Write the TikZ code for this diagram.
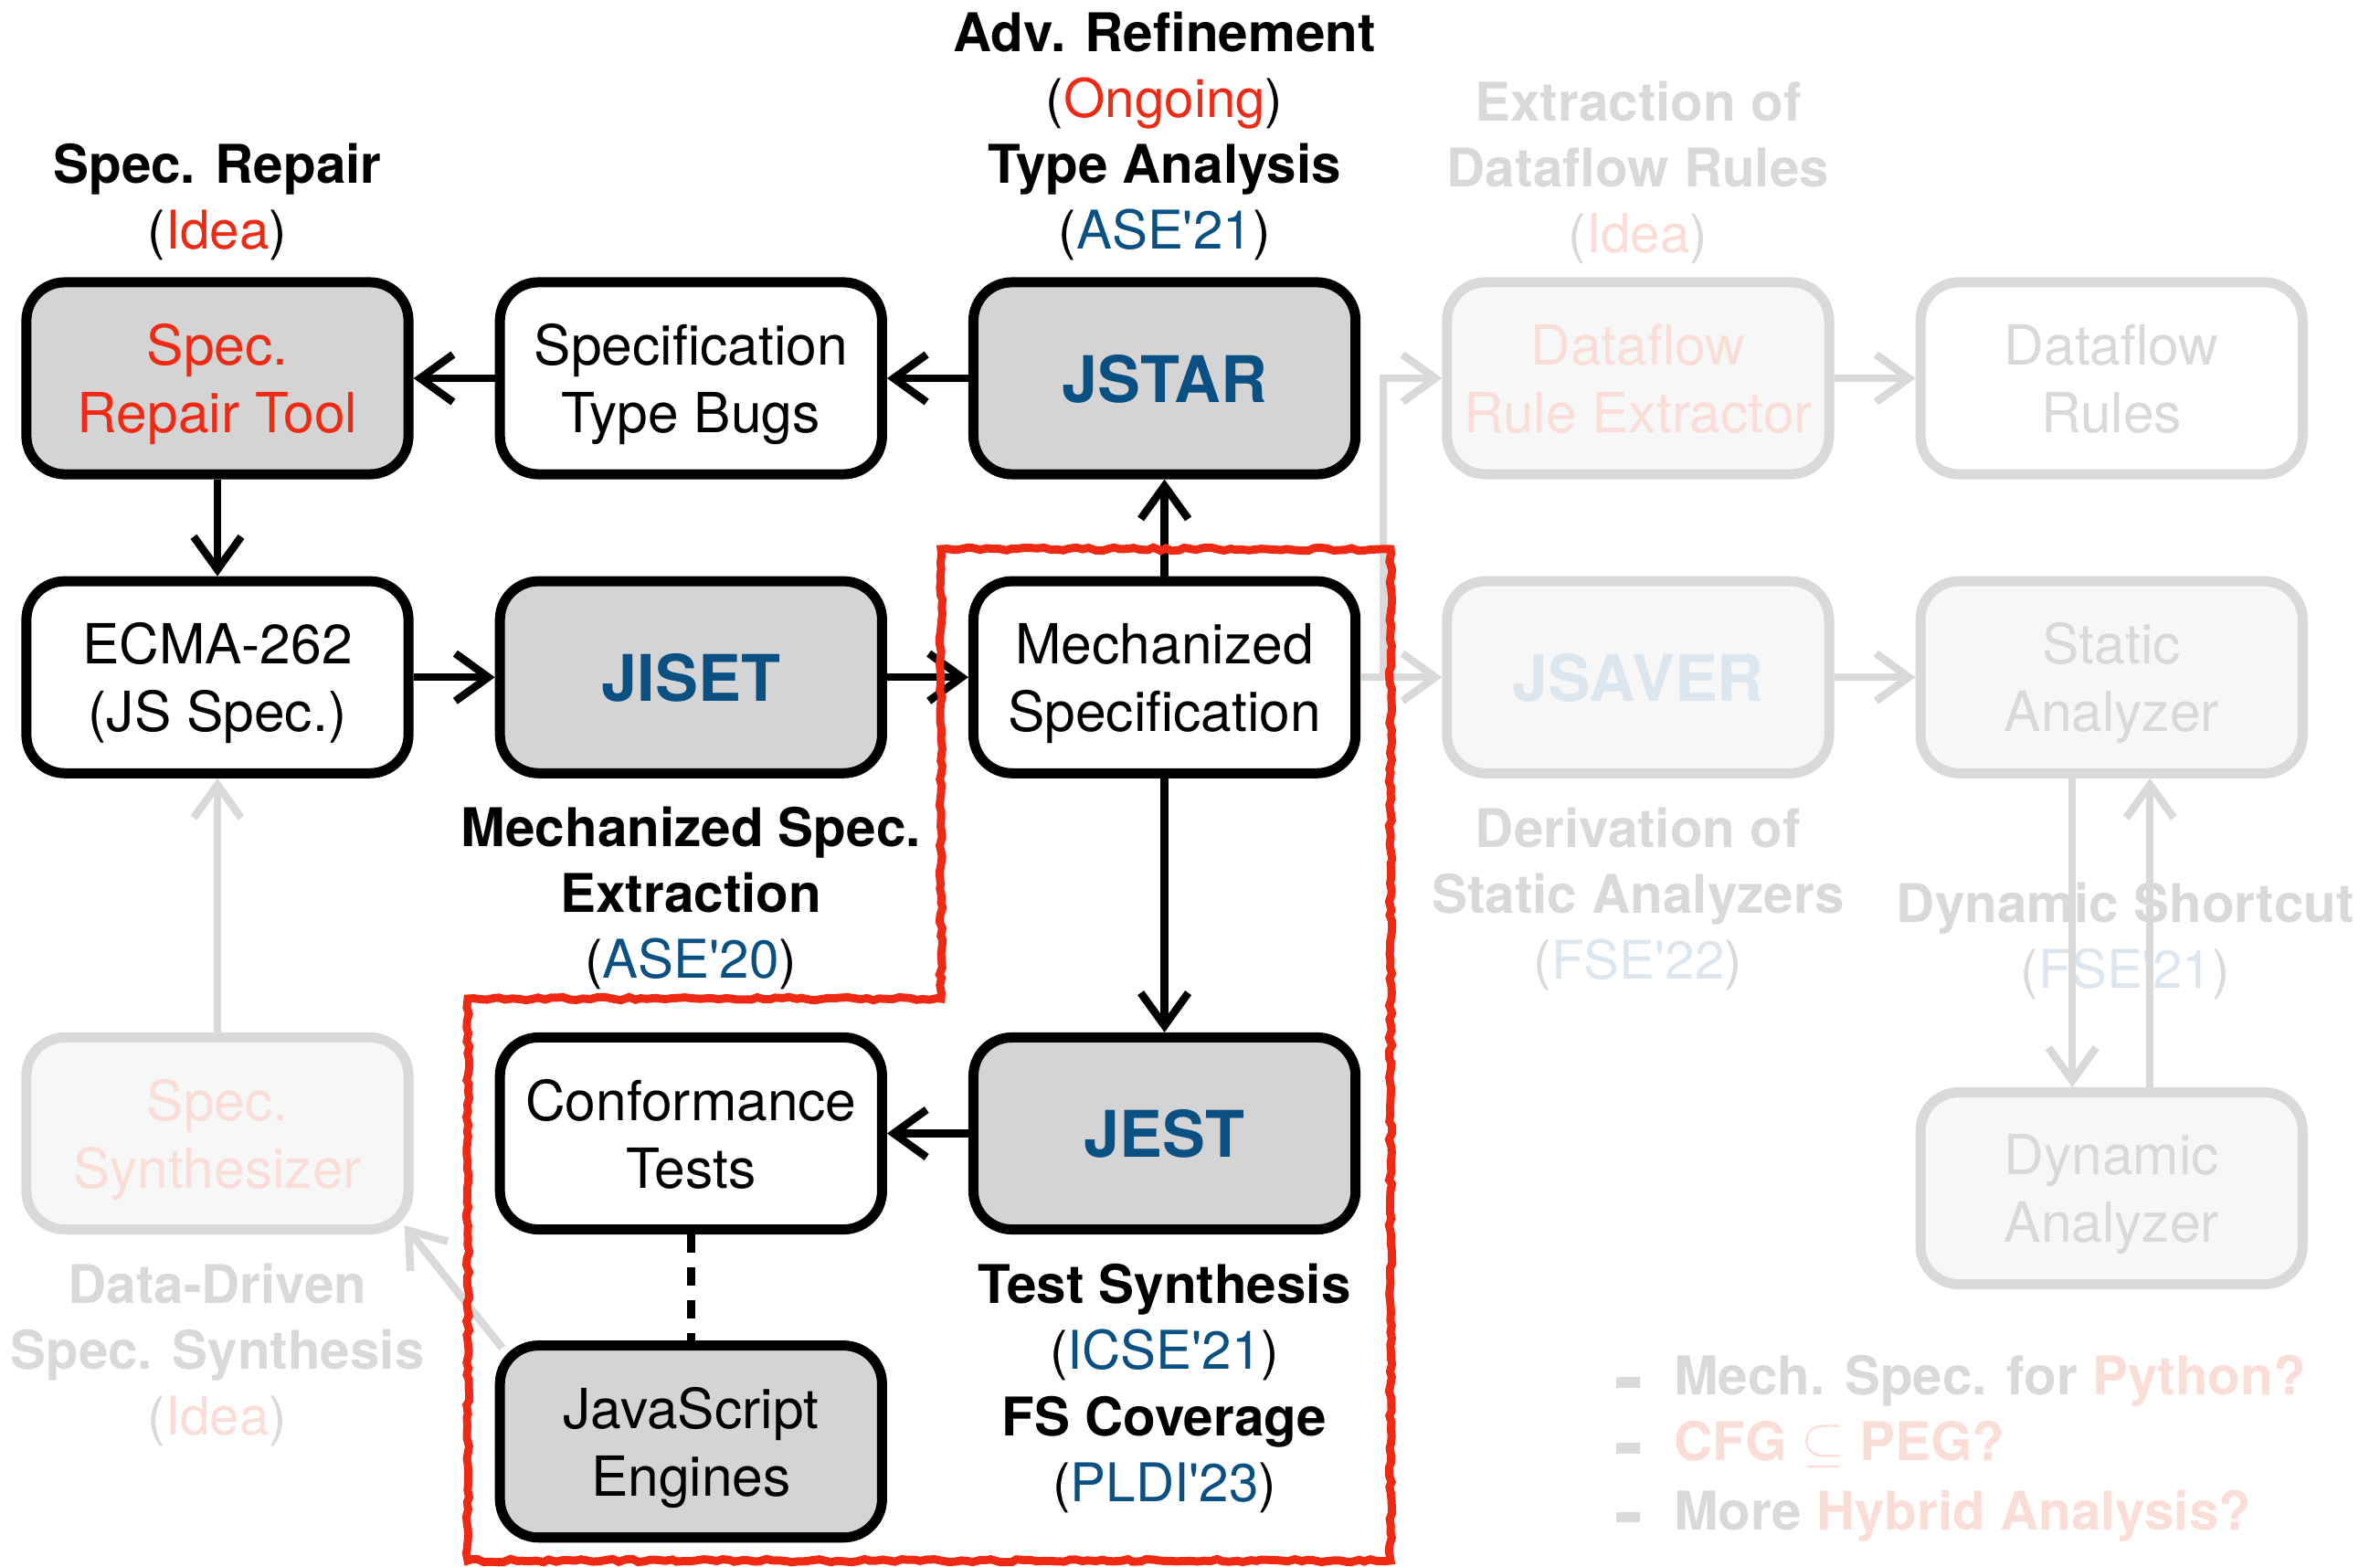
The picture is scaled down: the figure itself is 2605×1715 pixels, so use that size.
\documentclass[tikz,border=0pt]{standalone}
\usepackage{fontspec}
\setmainfont{TeX Gyre Heros}
\usepackage{tikz}
\usetikzlibrary{calc}
\usetikzlibrary{positioning}
\usetikzlibrary{arrows.meta}
\usetikzlibrary{decorations.pathmorphing}
\tikzset{every picture/.style={line width=0.085cm, >={Straight Barb[length=0.36cm,width=0.52cm]}}}
\definecolor{toolGray}{HTML}{D4D4D4}
\definecolor{paperBlue}{HTML}{0B5082}
\definecolor{ideaRed}{HTML}{EE2A15}
\definecolor{fadeGray}{HTML}{D9D9D9}
\definecolor{fadeFill}{HTML}{F7F7F7}
\definecolor{fadeRed}{HTML}{FBDDD8}
\definecolor{fadeBlue}{HTML}{DCE6EF}
\newcommand{\boxfont}{\fontsize{17.2}{21}\selectfont}
\newcommand{\namefont}{\fontsize{20}{24}\selectfont\bfseries}
\newcommand{\notefont}{\fontsize{16.6}{20.5}\selectfont}
\newcommand{\listdash}{\makebox[0.63cm][l]{\rule[2.3pt]{7.2pt}{3.2pt}}}

\begin{document}
\begin{tikzpicture}[x=0.01cm, y=-0.01cm,
        blockbox/.style={rectangle, rounded corners=0.42cm, line width=0.11cm, minimum width=4.18cm, minimum height=2.1cm, align=center, inner sep=0pt, text depth=0pt, font=\boxfont},
        toolbox/.style={blockbox, draw=black, fill=toolGray},
        docbox/.style={blockbox, draw=black, fill=white},
        fadetool/.style={blockbox, draw=fadeGray, fill=fadeFill, text=fadeGray},
        fadedoc/.style={blockbox, draw=fadeGray, fill=white, text=fadeGray},
        notetext/.style={align=center, inner sep=0pt, font=\notefont},
        fadeflow/.style={->, draw=fadeGray},
        sketch/.style={draw=ideaRed, line width=0.09cm, decorate, decoration={random steps, segment length=2pt, amplitude=0.5pt}}]
        \useasboundingbox (0,0) rectangle (2605,1715);
        \pgfmathsetseed{7}
        % top row
        \node[toolbox, text=ideaRed] (repair) at (238,414) {Spec.\\Repair Tool};
        \node[docbox, right=0.89cm of repair] (bugs) {Specification\\Type Bugs};
        \node[toolbox, font=\namefont, text=paperBlue, right=0.89cm of bugs] (jstar) {JSTAR};
        \node[fadetool, text=fadeRed, right=0.89cm of jstar] (extractor) {Dataflow\\Rule Extractor};
        \node[fadedoc, right=0.89cm of extractor] (rules) {Dataflow\\Rules};
        % middle row
        \node[docbox, below=1.06cm of repair] (ecma) {ECMA-262\\(JS Spec.)};
        \node[toolbox, font=\namefont, text=paperBlue, right=0.89cm of ecma] (jiset) {JISET};
        \node[docbox, right=0.89cm of jiset] (mech) {Mechanized\\Specification};
        \node[fadetool, font=\namefont, text=fadeBlue, right=0.89cm of mech] (jsaver) {JSAVER};
        \node[fadetool, right=0.89cm of jsaver] (static) {Static\\Analyzer};
        % bottom rows
        \node[toolbox, font=\namefont, text=paperBlue, below=2.78cm of mech] (jest) {JEST};
        \node[docbox, left=0.89cm of jest] (tests) {Conformance\\Tests};
        \node[fadetool, text=fadeRed, left=0.89cm of tests] (synth) {Spec.\\Synthesizer};
        \node[toolbox, below=1.16cm of tests] (engines) {JavaScript\\Engines};
        \node[fadetool, below=3.38cm of static] (dynamic) {Dynamic\\Analyzer};
        % labels
        \node[notetext, above=0.14cm of repair] (repairnote) {\textbf{Spec. Repair}\\(\textcolor{ideaRed}{Idea})};
        \node[notetext, above=0.14cm of jstar] (jstarnote) {\textbf{Adv. Refinement}\\(\textcolor{ideaRed}{Ongoing})\\\textbf{Type Analysis}\\(\textcolor{paperBlue}{ASE\textquotesingle21})};
        \node[notetext, text=fadeGray, above=0.1cm of extractor] (extractornote) {\textbf{Extraction of}\\\textbf{Dataflow Rules}\\(\textcolor{fadeRed}{Idea})};
        \node[notetext, below=0.27cm of jiset] (jisetnote) {\textbf{Mechanized Spec.}\\\textbf{Extraction}\\(\textcolor{paperBlue}{ASE\textquotesingle20})};
        \node[notetext, text=fadeGray, below=0.28cm of jsaver] (jsavernote) {\textbf{Derivation of}\\\textbf{Static Analyzers}\\(\textcolor{fadeBlue}{FSE\textquotesingle22})};
        \node[notetext, below=0.28cm of jest] (jestnote) {\textbf{Test Synthesis}\\(\textcolor{paperBlue}{ICSE\textquotesingle21})\\\textbf{FS Coverage}\\(\textcolor{paperBlue}{PLDI\textquotesingle23})};
        \node[notetext, text=fadeGray, below=0.28cm of synth] (synthnote) {\textbf{Data-Driven}\\\textbf{Spec. Synthesis}\\(\textcolor{fadeRed}{Idea})};
        \node[notetext, text=fadeGray, below=1.1cm of static, xshift=0.15cm] (shortcutnote) {\textbf{Dynamic Shortcut}\\(\textcolor{fadeBlue}{FSE\textquotesingle21})};
        \node[notetext, align=left, text=fadeGray, font=\notefont\bfseries, anchor=north west] (outlook) at (1765,1479)
            {\listdash Mech. Spec. for \textcolor{fadeRed}{Python?}\\
             \listdash\textcolor{fadeRed}{CFG $\subseteq$ PEG?}\\[1pt]
             \listdash More \textcolor{fadeRed}{Hybrid Analysis?}};
        % main flow
        \draw[->] (jstar) -- (bugs);
        \draw[->] (bugs) -- (repair);
        \draw[->] (repair) -- (ecma);
        \draw[->] (ecma) -- (jiset);
        \draw[->] (jiset) -- (mech);
        \draw[->] (mech) -- (jstar);
        \draw[->] (mech) -- (jest);
        \draw[->] (jest) -- (tests);
        \draw[dash pattern=on 0.2cm off 0.16cm] (tests) -- (engines);
        % faded flow
        \coordinate (fork) at ($(mech.east)!0.28!(jsaver.west)$);
        \draw[fadeflow] (mech) -- (jsaver);
        \draw[fadeflow] (fork) |- (extractor);
        \draw[fadeflow] (extractor) -- (rules);
        \draw[fadeflow] (jsaver) -- (static);
        \draw[fadeflow] (synth) -- (ecma);
        \draw[fadeflow] ([shift={(8,8)}]engines.north west) -- ([shift={(-10,-10)}]synth.south east);
        \draw[fadeflow] ([xshift=-0.43cm]static.south) -- ([xshift=-0.43cm]dynamic.north);
        \draw[fadeflow] ([xshift=0.42cm]dynamic.north) -- ([xshift=0.42cm]static.south);
        % focus area
        \draw[sketch] (1030,601) -- (1522,601) -- (1522,1708) -- (512,1708) -- (512,1093) -- (1030,1093) -- cycle;
    \end{tikzpicture}
\end{document}
